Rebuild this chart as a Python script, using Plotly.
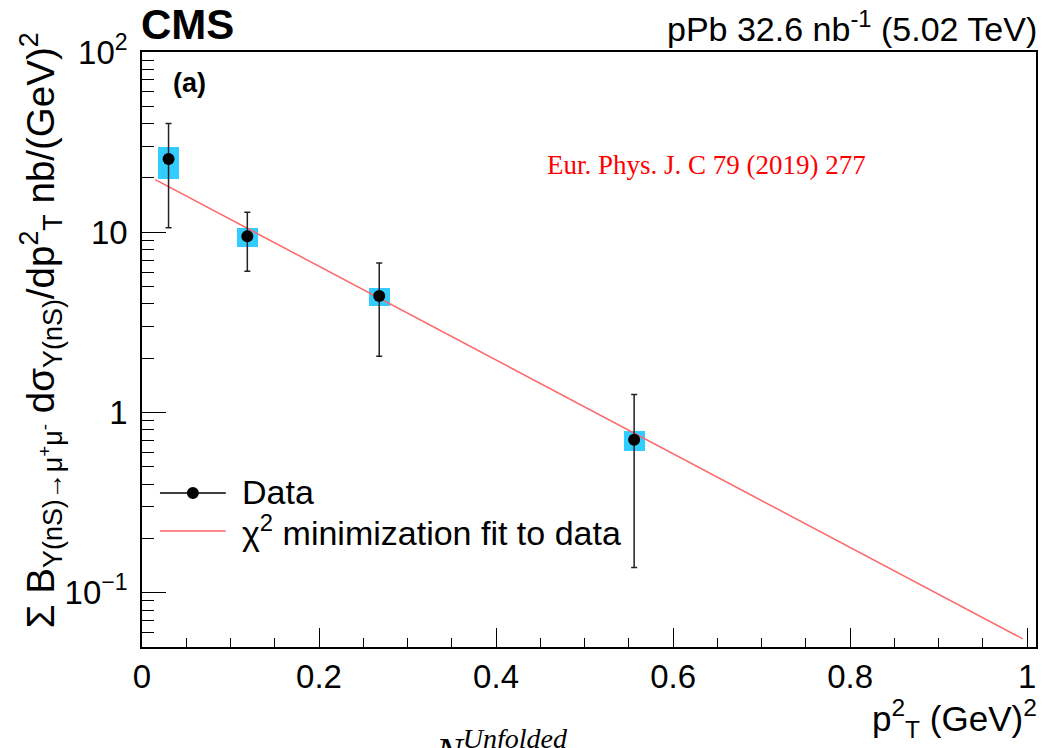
import numpy as np
import plotly.graph_objects as go

# ---------------- data ----------------
pt2 = [0.030, 0.119, 0.268, 0.556]              # p_T^2 (GeV^2)
xsec = [25.5, 9.5, 4.43, 0.705]                 # nb/(GeV)^2
stat_hi = [40.1, 12.9, 6.76, 1.26]              # upper end of error bar
stat_lo = [10.6, 6.08, 2.05, 0.138]             # lower end of error bar
sys_hi = [29.7, 10.6, 4.93, 0.79]               # upper edge of syst. box
sys_lo = [19.8, 8.28, 3.89, 0.61]               # lower edge of syst. box

fit_x = [0.015, 0.995]                          # chi2 fit (straight line on log scale)
fit_y = [19.6, 0.0555]

x_tickvals = [0, 0.2, 0.4, 0.6, 0.8, 1.0]
x_ticktext = ["0", "0.2", "0.4", "0.6", "0.8", "1"]
y_tickvals = [0.1, 1, 10, 100]
y_ticktext = ["10<sup>\u22121</sup>", "1", "10", "10<sup>2</sup>"]

# ---------------- layout geometry ----------------
W, H = 1042, 748
L, R, T, B = 142, 4, 52, 101
PW, PH = W - L - R, H - T - B
FONT = "Liberation Sans, Arial, Helvetica, sans-serif"
SERIF = "Liberation Serif, Times New Roman, serif"
BOX_HALF = 0.0118
BLUE = "#33CCFF"
RED = "#FF6666"


def xp(px):
    return (px - L) / PW


def yp(py):
    return (H - B - py) / PH


fig = go.Figure()

# systematic boxes
fig.add_trace(go.Bar(
    x=pt2,
    y=[h - l for h, l in zip(sys_hi, sys_lo)],
    base=sys_lo,
    width=2 * BOX_HALF,
    marker=dict(color=BLUE, line=dict(width=0)),
    showlegend=False, hoverinfo="skip", name="syst",
))

# fit line
fig.add_trace(go.Scatter(
    x=fit_x, y=fit_y, mode="lines",
    line=dict(color=RED, width=1.5),
    name="\u03c7<sup>2</sup> minimization fit to data", showlegend=False,
))

# data points
fig.add_trace(go.Scatter(
    x=pt2, y=xsec, mode="markers",
    marker=dict(color="black", size=12),
    error_y=dict(type="data", symmetric=False,
                 array=[h - v for h, v in zip(stat_hi, xsec)],
                 arrayminus=[v - l for v, l in zip(xsec, stat_lo)],
                 color="#222222", thickness=1.5, width=3),
    name="Data", showlegend=False,
))

minor_y = [m * 10.0 ** e for e in (-2, -1, 0, 1) for m in range(2, 10) if 0.05 <= m * 10.0 ** e <= 100]

fig.update_xaxes(
    range=[0, 1.01], tickvals=x_tickvals, ticktext=x_ticktext,
    ticks="inside", ticklen=19, tickwidth=1.3, tickcolor="black",
    minor=dict(ticks="inside", ticklen=9, tickwidth=1.3, tickcolor="black", dtick=0.05, tick0=0, showgrid=False),
    showline=True, linecolor="black", linewidth=1.5, mirror=True,
    showgrid=False, zeroline=False,
    tickfont=dict(family=FONT, size=33, color="black"),
)
fig.update_yaxes(
    type="log", range=[np.log10(0.05), 2],
    tickvals=y_tickvals, ticktext=y_ticktext,
    ticks="inside", ticklen=24, tickwidth=1.3, tickcolor="black",
    minor=dict(ticks="inside", ticklen=12, tickwidth=1.3, tickcolor="black", tickvals=minor_y, showgrid=False),
    showline=True, linecolor="black", linewidth=1.5, mirror=True,
    showgrid=False, zeroline=False,
    tickfont=dict(family=FONT, size=33, color="black"),
    ticklabelstandoff=6,
)

shapes = [
    # legend: Data line + marker
    dict(type="line", xref="paper", yref="paper", x0=xp(160), x1=xp(226), y0=yp(493), y1=yp(493),
         line=dict(color="black", width=1.5)),
    dict(type="circle", xref="paper", yref="paper", xsizemode="pixel", ysizemode="pixel",
         xanchor=xp(193), yanchor=yp(493), x0=-6, x1=6, y0=-6, y1=6,
         fillcolor="black", line=dict(width=0)),
    # legend: fit line
    dict(type="line", xref="paper", yref="paper", x0=xp(160), x1=xp(226), y0=yp(531), y1=yp(531),
         line=dict(color=RED, width=1.5)),
]

annotations = [
    dict(text="<b>CMS</b>", x=xp(139), y=yp(25), xanchor="left", yanchor="middle",
         font=dict(family=FONT, size=42, color="black")),
    dict(text="pPb 32.6 nb<sup>-1</sup> (5.02 TeV)", x=xp(1041), y=yp(27), xanchor="right", yanchor="middle",
         font=dict(family=FONT, size=34, color="black")),
    dict(text="<b>(a)</b>", x=xp(171), y=yp(83), xanchor="left", yanchor="middle",
         font=dict(family=FONT, size=27, color="black")),
    dict(text="Eur. Phys. J. C 79 (2019) 277", x=xp(708), y=yp(165), xanchor="center", yanchor="middle",
         font=dict(family=SERIF, size=27, color="#FF0000")),
    dict(text="Data", x=xp(240), y=yp(492), xanchor="left", yanchor="middle",
         font=dict(family=FONT, size=34, color="black")),
    dict(text="\u03c7<sup>2</sup> minimization fit to data", x=xp(240), y=yp(530), xanchor="left", yanchor="middle",
         font=dict(family=FONT, size=34, color="black")),
    dict(text="p<sup>2</sup><sub>T</sub> (GeV)<sup>2</sup>", x=xp(1041), y=yp(718), xanchor="right", yanchor="middle",
         font=dict(family=FONT, size=35, color="black")),
    dict(text="\u03a3 B<sub>\u03a5(nS)\u2192\u03bc<sup>+</sup>\u03bc<sup>-</sup></sub> d\u03c3<sub>\u03a5(nS)</sub>/dp<sup>2</sup><sub>T</sub> nb/(GeV)<sup>2</sup>",
         x=xp(41), y=yp(330), xanchor="center", yanchor="middle", textangle=-90,
         font=dict(family=FONT, size=38.5, color="black")),
    dict(text="<i>N<sup>Unfolded</sup></i>", x=xp(434), y=yp(721), xanchor="left", yanchor="top",
         font=dict(family=SERIF, size=40, color="black")),
]
for a in annotations:
    a.update(xref="paper", yref="paper", showarrow=False)

fig.update_layout(
    width=W, height=H,
    margin=dict(l=L, r=R, t=T, b=B, pad=0),
    paper_bgcolor="white", plot_bgcolor="white",
    shapes=shapes, annotations=annotations,
    showlegend=False, bargap=0, barmode="overlay",
    font=dict(family=FONT, color="black"),
)

fig.write_html("out.html")
